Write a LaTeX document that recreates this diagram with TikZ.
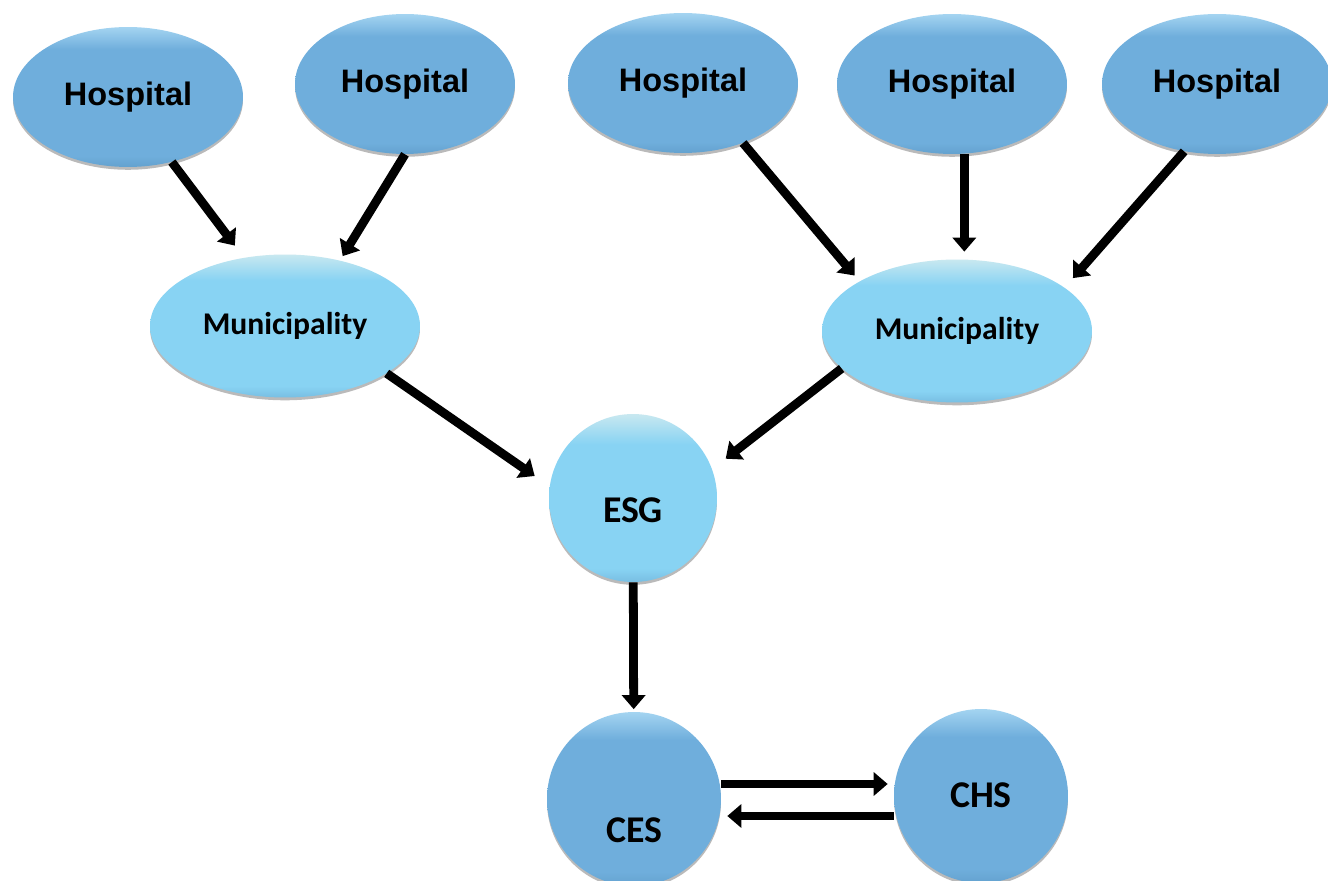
\documentclass[tikz,border=0pt]{standalone}
\usepackage{fontspec}
\setmainfont{Carlito}
\newfontfamily\hospfont{Liberation Sans}
\usetikzlibrary{arrows.meta, shapes.geometric, shadows}

\definecolor{hospblue}{HTML}{6FAEDC}
\definecolor{hosprim}{HTML}{A4D4F1}
\definecolor{hospdeep}{HTML}{64A2CF}
\definecolor{munblue}{HTML}{88D3F3}
\definecolor{munrim}{HTML}{C8E8F0}
\definecolor{mundeep}{HTML}{78BEE2}

\pgfdeclareverticalshading{hospface}{100bp}{color(0bp)=(hospdeep); color(25bp)=(hospdeep); color(29bp)=(hospblue); color(67bp)=(hospblue); color(75bp)=(hosprim); color(100bp)=(hosprim)}
\pgfdeclareverticalshading{munface}{100bp}{color(0bp)=(mundeep); color(25bp)=(mundeep); color(29bp)=(munblue); color(66bp)=(munblue); color(75bp)=(munrim); color(100bp)=(munrim)}

\begin{document}
\begin{tikzpicture}[
			x=0.02cm, y=-0.02cm,
			bubble/.style={
				shade,
				inner sep=0pt,
				drop shadow={shadow xshift=0pt, shadow yshift=-1.6pt, opacity=0.45, fill=black!60}
			},
			hosp/.style={
				bubble,
				ellipse,
				shading=hospface,
				minimum width=4.6cm,
				minimum height=2.8cm,
				font=\hospfont\bfseries\fontsize{18.5}{20}\selectfont
			},
			muni/.style={
				bubble,
				ellipse,
				shading=munface,
				minimum width=5.4cm,
				minimum height=2.86cm,
				font=\bfseries\fontsize{18}{20}\selectfont
			},
			hub/.style={
				bubble,
				circle,
				minimum size=3.48cm
			},
			hubtext/.style={
				font=\bfseries\fontsize{21.5}{24}\selectfont
			},
			arrow/.style={-{Triangle[width=0.46cm, length=0.28cm]}, line width=5pt, shorten >=0.2cm}
			]
			
			\useasboundingbox[fill=white] (0,0) rectangle (1328,881);
			
			\node[hosp] (h1) at (128,97) {Hospital};
			\node[hosp, minimum width=4.4cm] (h2) at (405,84) {Hospital};
			\node[hosp] (h3) at (683,83) {Hospital};
			\node[hosp] (h4) at (952,84) {Hospital};
			\node[hosp] (h5) at (1217,84) {Hospital};
			
			\node[muni] (m1) at (285,326) {Municipality};
			\node[muni] (m2) at (957,331) {Municipality};
			
			\node[hub, shading=munface, minimum size=3.36cm] (esg) at (633,498) {};
			\node[hub, shading=hospface] (ces) at (634,799) {};
			\node[hub, shading=hospface] (chs) at (981,796) {};
			
			\node[hubtext] (esglabel) at (633,510) {ESG};
			\node[hubtext] (ceslabel) at (634,830) {CES};
			\node[hubtext] (chslabel) at (981,795) {CHS};
			
			\draw[arrow, shorten >=0.3cm] (h1.-56) -- (m1.121);
			\draw[arrow, shorten >=0.1cm] (h2.-90) -- (m1.50);
			
			\draw[arrow, shorten >=0.15cm] (h3.-45) -- (m2.153);
			\draw[arrow, shorten >=0.15cm] (h4.-80) -- (m2.north -| h4.-80);
			\draw[arrow, shorten >=0.25cm] (h5.-116) -- (m2.22);
			
			\draw[arrow, shorten >=0.36cm] (m1.-25) -- (esg.172);
			\draw[arrow, shorten >=0.34cm] (m2.-162) -- (esg.20);
			
			\draw[arrow, shorten >=0.05cm] (esg) -- (ces);
			
			\draw[arrow, shorten >=0.12cm] ([yshift=0.3cm]ces.east) -- ([yshift=0.3cm]ces.east -| chs.west);
			\draw[arrow, shorten >=0.12cm] ([yshift=-0.34cm]ces.east -| chs.west) -- ([yshift=-0.34cm]ces.east);
			
		\end{tikzpicture}
\end{document}
